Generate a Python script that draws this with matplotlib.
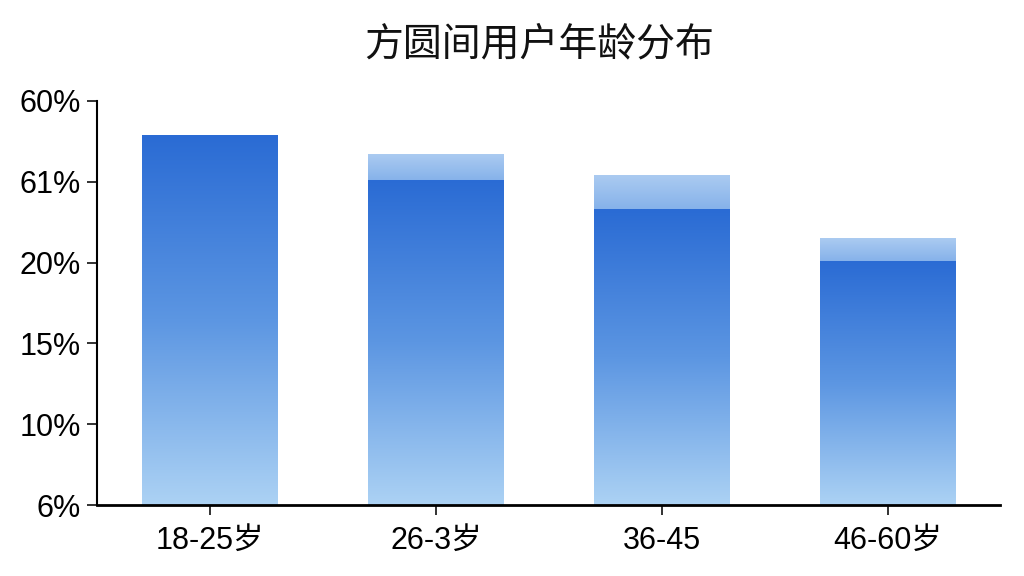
import numpy as np
import matplotlib
matplotlib.use('Agg')
import matplotlib.pyplot as plt
from matplotlib.colors import LinearSegmentedColormap

plt.rcParams['font.family'] = ['Liberation Sans', 'Noto Sans CJK SC', 'DejaVu Sans']

# data (axis runs 5..30 internally, tick text as printed)
categories = ['18-25岁', '26-3岁', '36-45', '46-60岁']
main_values = [27.9, 25.1, 23.3, 20.1]
cap_values = [0.0, 1.6, 2.1, 1.4]
tick_values = [5, 10, 15, 20, 25, 30]
tick_labels = ['6%', '10%', '15%', '20%', '61%', '60%']
title = '方圆间用户年龄分布'

base = 5
main_cmap = LinearSegmentedColormap.from_list('main', ['#acd2f4', '#5c96e2', '#2a6bd4'])
cap_cmap = LinearSegmentedColormap.from_list('cap', ['#86b2ea', '#abcbf1'])

fig = plt.figure(figsize=(10.24, 5.76), dpi=100)
ax = fig.add_axes([0.095, 0.123, 0.882, 0.702])

x = np.arange(len(categories))
width = 0.6
ymin, ymax = 5, 30

grad = np.linspace(0, 1, 256).reshape(-1, 1)


def gradient_bar(xc, y0, y1, cmap):
    bar = ax.bar(xc, y1 - y0, width, bottom=y0, color='none', edgecolor='none')[0]
    im = ax.imshow(grad, cmap=cmap, aspect='auto', origin='lower',
                   extent=[xc - width / 2, xc + width / 2, y0, y1], zorder=2)
    im.set_clip_path(bar)


for i in range(len(categories)):
    gradient_bar(x[i], base, main_values[i], main_cmap)
    if cap_values[i] > 0:
        gradient_bar(x[i], main_values[i], main_values[i] + cap_values[i], cap_cmap)

ax.set_xlim(-0.5, len(categories) - 0.5)
ax.set_ylim(ymin, ymax)
ax.set_xticks(x)
ax.set_xticklabels(categories, fontsize=22)
ax.set_yticks(tick_values)
ax.set_yticklabels(tick_labels, fontsize=22)

for side in ['top', 'right']:
    ax.spines[side].set_visible(False)
ax.spines['left'].set_linewidth(1.5)
ax.spines['bottom'].set_linewidth(2)
ax.tick_params(axis='both', length=7, width=1.3, color='#222222')
ax.tick_params(axis='x', pad=8)
ax.tick_params(axis='y', pad=5)

fig.text(0.527, 0.922, title, ha='center', va='center', fontsize=28,
         fontweight='medium', color='#111111')

fig.savefig('out.png', dpi=100)
